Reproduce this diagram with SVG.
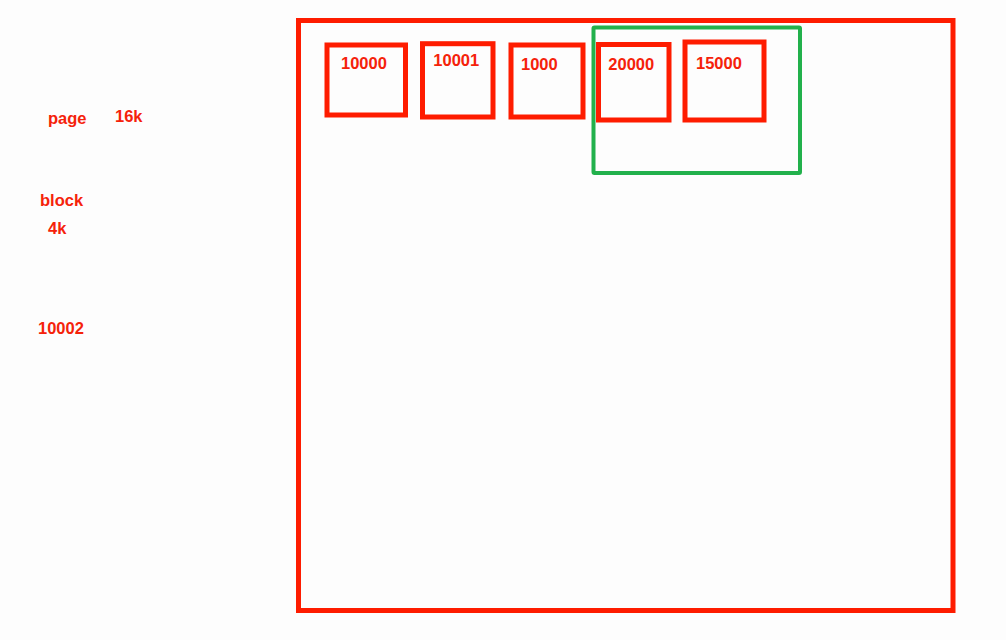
<svg xmlns="http://www.w3.org/2000/svg" width="1006" height="640" viewBox="0 0 1006 640">
<style>
.r{fill:none;stroke:#fe1c00;stroke-width:5}
.g{fill:none;stroke:#22b14c;stroke-width:4}
text{font-family:"Liberation Sans",Arial,sans-serif;font-weight:bold;font-size:16.5px;fill:#f5220a}
</style>
<rect width="1006" height="640" fill="#fdfdfd"/>
<g id="page-frame"><rect class="r" x="298.5" y="20.5" width="654.5" height="590"/></g>
<g id="labels">
<text x="48" y="124">page</text>
<text x="115" y="122">16k</text>
<text x="40" y="206">block</text>
<text x="48" y="234">4k</text>
<text x="38" y="334">10002</text>
</g>
<g id="b10000"><rect class="r" x="327" y="45" width="78.5" height="70"/><text x="341" y="68.5">10000</text></g>
<g id="b10001"><rect class="r" x="422.5" y="43.7" width="70.5" height="73.3"/><text x="433.3" y="66">10001</text></g>
<g id="b1000"><rect class="r" x="511" y="45" width="72" height="72"/><text x="521" y="69.5">1000</text></g>
<g id="b20000"><rect class="r" x="598.5" y="44.5" width="70.5" height="75.5"/><text x="608.3" y="69.5">20000</text></g>
<g id="b15000"><rect class="r" x="685" y="42" width="79" height="78"/><text x="696" y="69">15000</text></g>
<g id="group-green"><rect class="g" x="593.5" y="27.5" width="206.5" height="145.5" rx="1"/></g>
<g id="connectors"></g>
</svg>
